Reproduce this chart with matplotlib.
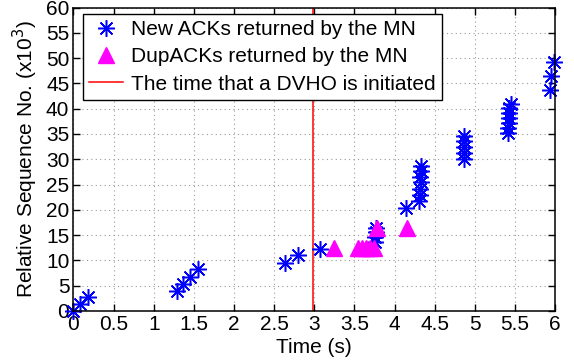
import matplotlib
matplotlib.use("Agg")
import matplotlib.pyplot as plt

plt.rcParams['font.family'] = ['Liberation Sans', 'DejaVu Sans']

# New ACKs (time s, seq x10^3)
ack_t = [0.0, 0.08, 0.18, 1.29, 1.36, 1.45, 1.55, 2.64, 2.80, 3.07,
         3.76, 3.76, 3.77, 3.77, 4.14,
         4.31, 4.32, 4.32, 4.33, 4.32, 4.33, 4.33,
         4.86, 4.86, 4.87, 4.87, 4.87,
         5.41, 5.41, 5.42, 5.42, 5.42, 5.43, 5.45,
         5.94, 5.95, 5.99]
ack_s = [0.0, 1.3, 2.8, 3.9, 5.3, 6.7, 8.2, 9.5, 11.0, 12.3,
         13.7, 14.6, 15.6, 16.4, 20.4,
         21.8, 23.0, 24.2, 25.4, 26.5, 27.6, 28.7,
         30.0, 31.2, 32.4, 33.6, 34.6,
         35.2, 36.1, 37.1, 38.1, 39.1, 40.1, 41.0,
         43.8, 46.5, 49.2]

# DupACKs
dup_t = [3.24, 3.55, 3.60, 3.65, 3.70, 3.74, 3.78, 4.15]
dup_s = [12.5, 12.5, 12.5, 12.5, 12.5, 12.5, 16.4, 16.4]

dvho_t = 2.99
x_ticks = [0, 0.5, 1, 1.5, 2, 2.5, 3, 3.5, 4, 4.5, 5, 5.5, 6]
x_labels = ['0', '0.5', '1', '1.5', '2', '2.5', '3', '3.5', '4', '4.5', '5', '5.5', '6']
y_ticks = list(range(0, 61, 5))

fig = plt.figure(figsize=(5.74, 3.64), dpi=100)
ax = fig.add_axes([0.128, 0.146, 0.839, 0.833])

ax.plot(ack_t, ack_s, linestyle='none', marker=(8, 2, 0), markersize=12,
        markeredgewidth=1.1, color='#0000ff', label='New ACKs returned by the MN',
        zorder=3, clip_on=False)
ax.plot(dup_t, dup_s, linestyle='none', marker='^', markersize=11,
        color='#ff00ff', markeredgecolor='#ff00ff', label='DupACKs returned by the MN',
        zorder=3, clip_on=False)
ax.axvline(dvho_t, color='#ff0000', linewidth=1.1, label='The time that a DVHO is initiated', zorder=2)

ax.set_xlim(0, 6)
ax.set_ylim(0, 60)
ax.set_xticks(x_ticks)
ax.set_xticklabels(x_labels)
ax.set_yticks(y_ticks)
ax.tick_params(direction='in', length=5, width=1, top=True, right=True,
               labelsize=15, pad=3)
ax.grid(True, linestyle=(0, (1, 3)), color='#999999', linewidth=0.8)
for sp in ax.spines.values():
    sp.set_linewidth(1.1)
    sp.set_zorder(4)

ax.set_xlabel('Time (s)', fontsize=15, labelpad=3)
ax.set_ylabel(r'Relative Sequence No. (x10$^{3}$)', fontsize=15, labelpad=4)

leg = ax.legend(loc='upper left', bbox_to_anchor=(0.02, 0.98), fontsize=15,
                frameon=True, fancybox=False, edgecolor='black', framealpha=1,
                handlelength=1.6, handletextpad=0.4, borderpad=0.3,
                labelspacing=0.4, borderaxespad=0)
leg.get_frame().set_linewidth(1.0)
leg.set_zorder(5)

fig.savefig('out.png', dpi=100)
